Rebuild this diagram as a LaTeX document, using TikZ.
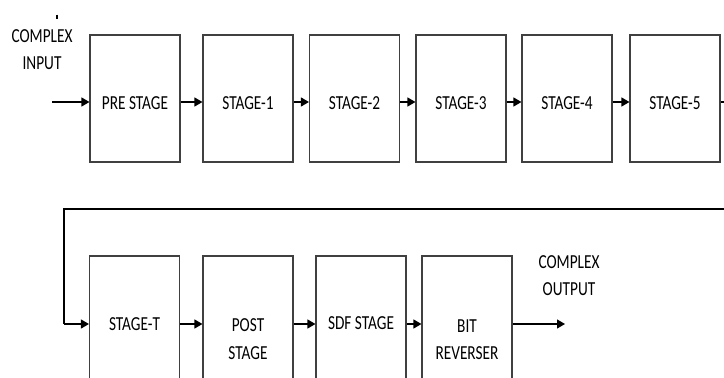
\documentclass[tikz,border=0pt]{standalone}
\usepackage{fontspec}
\setmainfont{Carlito}
\usetikzlibrary{arrows.meta,calc}
\newcommand{\tx}[1]{\scalebox{1}[1.3]{#1}}
\begin{document}
\begin{tikzpicture}[x=1pt,y=-1pt,
  box/.style={draw=black!75,line width=1.1pt,minimum width=90pt,minimum height=127pt,inner sep=0pt},
  lbl/.style={font=\fontsize{15.3pt}{18pt}\selectfont,inner sep=0pt,text=black},
  conn/.style={line width=1.2pt,-{Triangle[length=8pt,width=9pt]}},
  wire/.style={line width=1.2pt}]
\useasboundingbox (0,0) rectangle (724,378);
\clip (0,0) rectangle (724,378);
% top row
\node[box] (pre) at (135,98.5) {};
\node[box] (s1) at (248,98.5) {};
\node[box] (s2) at (354.5,98.5) {};
\node[box] (s3) at (461,98.5) {};
\node[box] (s4) at (567,98.5) {};
\node[box] (s5) at (675,98.5) {};
\coordinate (r1) at (0,102);
\node[lbl] (tpre) at (135,103) {\tx{PRE STAGE}};
\node[lbl] (t1) at (248,103) {\tx{STAGE-1}};
\node[lbl] (t2) at (354.5,103) {\tx{STAGE-2}};
\node[lbl] (t3) at (461,103) {\tx{STAGE-3}};
\node[lbl] (t4) at (567,103) {\tx{STAGE-4}};
\node[lbl] (t5) at (675,103) {\tx{STAGE-5}};
% input
\node[lbl] (cin1) at (42,36) {\tx{COMPLEX}};
\node[lbl] (cin2) at (42,63) {\tx{INPUT}};
\coordinate (tick1) at (57,14.5);
\coordinate (tick2) at (57,19);
\draw[line width=1.2pt] (tick1) -- (tick2);
\coordinate (inp) at (52,102);
\draw[conn] (inp) -- (pre.west |- r1);
\draw[conn] (pre.east |- r1) -- (s1.west |- r1);
\draw[conn] (s1.east |- r1) -- (s2.west |- r1);
\draw[conn] (s2.east |- r1) -- (s3.west |- r1);
\draw[conn] (s3.east |- r1) -- (s4.west |- r1);
\draw[conn] (s4.east |- r1) -- (s5.west |- r1);
% bottom row
\node[box,minimum height=136pt] (st) at (134.5,324) {};
\node[box,minimum height=136pt] (post) at (248,324) {};
\node[box,minimum height=136pt] (sdf) at (361,324) {};
\node[box,minimum height=136pt] (bit) at (467,324) {};
\node[lbl] (tst) at (134.5,324) {\tx{STAGE-T}};
\node[lbl] (tpost1) at (248,325) {\tx{POST}};
\node[lbl] (tpost2) at (248,353) {\tx{STAGE}};
\node[lbl] (tsdf) at (361,323) {\tx{SDF STAGE}};
\node[lbl] (tbit1) at (467,326) {\tx{BIT}};
\node[lbl] (tbit2) at (467,353) {\tx{REVERSER}};
% feedback
\coordinate (fr) at (730,102);
\coordinate (fb) at (730,209);
\coordinate (fl) at (64,209);
\draw[wire] (s5.east |- r1) -- (fr) -- (fb) -- (fl) -- (fl |- st.west);
\draw[conn] (fl |- st.west) -- (st.west);
\draw[conn] (st.east) -- (post.west);
\draw[conn] (post.east) -- (sdf.west);
\draw[conn] (sdf.east) -- (bit.west);
\coordinate (out) at (565,324);
\draw[conn] (bit.east) -- (out);
\node[lbl] (cout1) at (569,262) {\tx{COMPLEX}};
\node[lbl] (cout2) at (569,289) {\tx{OUTPUT}};
\end{tikzpicture}
\end{document}
